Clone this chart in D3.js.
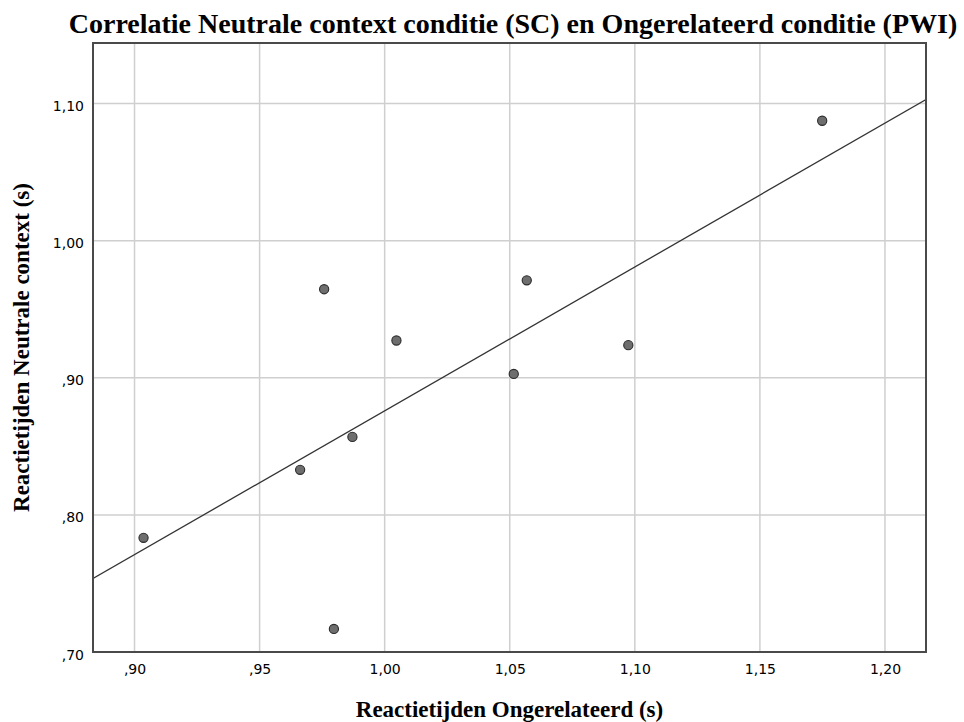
<!DOCTYPE html>
<html lang="nl">
  <head>
    <meta charset="UTF-8" />
    <title>Correlatie Neutrale context conditie (SC) en Ongerelateerd conditie (PWI)</title>
    <style>
      body {
        margin: 0;
        background: #fff;
      }
      svg text {
        fill: #000;
      }
      .tick-label {
        font-family: "DejaVu Sans", sans-serif;
        font-size: 14px;
      }
      .title {
        font-family: "Liberation Serif", "Times New Roman", serif;
        font-weight: bold;
      }
    </style>
  </head>
  <body>
    <svg id="chart" width="964" height="722"></svg>
    <script src="https://cdnjs.cloudflare.com/ajax/libs/d3/7.8.5/d3.min.js"></script>
    <script>
      // reaction times (s)
      const ongerelateerd = [0.9036, 0.9662, 0.9871, 0.9797, 0.9758, 1.0047, 1.0568, 1.0516, 1.0974, 1.1749];
      const neutraal = [0.7833, 0.8329, 0.8569, 0.7168, 0.9646, 0.9272, 0.9711, 0.9028, 0.9238, 1.0875];

      const xTicks = [0.9, 0.95, 1.0, 1.05, 1.1, 1.15, 1.2];
      const yTicks = [0.7, 0.8, 0.9, 1.0, 1.1];
      const xDomain = [0.8834, 1.2164];
      const yDomain = [0.7, 1.1442];

      const titleText = "Correlatie Neutrale context conditie (SC) en Ongerelateerd conditie (PWI)";
      const xLabel = "Reactietijden Ongerelateerd (s)";
      const yLabel = "Reactietijden Neutrale context (s)";

      const margin = { top: 43, right: 38, bottom: 70, left: 93 };
      const width = 964 - margin.left - margin.right;
      const height = 722 - margin.top - margin.bottom;

      const svg = d3.select("#chart");
      const g = svg.append("g").attr("transform", `translate(${margin.left},${margin.top})`);

      const x = d3.scaleLinear().domain(xDomain).range([0, width]);
      const y = d3.scaleLinear().domain(yDomain).range([height, 0]);

      // dutch style numbers: ,90 and 1,00
      const fmt = (v) => {
        const s = d3.format(".2f")(v).replace(".", ",");
        return s.startsWith("0") ? s.slice(1) : s;
      };

      g.append("clipPath")
        .attr("id", "plotClip")
        .append("rect")
        .attr("width", width)
        .attr("height", height);

      // gridlines
      g.append("g")
        .selectAll("line")
        .data(xTicks)
        .join("line")
        .attr("x1", (d) => x(d))
        .attr("x2", (d) => x(d))
        .attr("y1", 0)
        .attr("y2", height)
        .attr("stroke", "#cfcfcf")
        .attr("stroke-width", 1.5);

      g.append("g")
        .selectAll("line")
        .data(yTicks)
        .join("line")
        .attr("x1", 0)
        .attr("x2", width)
        .attr("y1", (d) => y(d))
        .attr("y2", (d) => y(d))
        .attr("stroke", "#cfcfcf")
        .attr("stroke-width", 1.5);

      // axes, no tick marks
      const xAxis = g
        .append("g")
        .attr("transform", `translate(0,${height})`)
        .call(d3.axisBottom(x).tickValues(xTicks).tickFormat(fmt).tickSize(0).tickPadding(12));
      const yAxis = g
        .append("g")
        .call(d3.axisLeft(y).tickValues(yTicks).tickFormat(fmt).tickSize(0).tickPadding(9));
      [xAxis, yAxis].forEach((a) => {
        a.select(".domain").remove();
        a.selectAll("text").attr("class", "tick-label").attr("fill", "#000");
      });
      yAxis.selectAll("text").attr("dy", "0.5em");

      // least squares fit line
      const mx = d3.mean(ongerelateerd);
      const my = d3.mean(neutraal);
      const sxy = d3.sum(ongerelateerd, (v, i) => (v - mx) * (neutraal[i] - my));
      const sxx = d3.sum(ongerelateerd, (v) => (v - mx) * (v - mx));
      const slope = sxy / sxx;
      const icpt = my - slope * mx;

      g.append("line")
        .attr("clip-path", "url(#plotClip)")
        .attr("x1", x(xDomain[0]))
        .attr("y1", y(icpt + slope * xDomain[0]))
        .attr("x2", x(xDomain[1]))
        .attr("y2", y(icpt + slope * xDomain[1]))
        .attr("stroke", "#333")
        .attr("stroke-width", 1.3);

      // points
      g.append("g")
        .selectAll("circle")
        .data(ongerelateerd)
        .join("circle")
        .attr("cx", (d) => x(d))
        .attr("cy", (d, i) => y(neutraal[i]))
        .attr("r", 4.6)
        .attr("fill", "#6e6e6e")
        .attr("stroke", "#2a2a2a")
        .attr("stroke-width", 1.1);

      // frame
      g.append("rect")
        .attr("width", width)
        .attr("height", height)
        .attr("fill", "none")
        .attr("stroke", "#4a4a4a")
        .attr("stroke-width", 2);

      svg
        .append("text")
        .attr("class", "title")
        .attr("x", 513)
        .attr("y", 33)
        .attr("text-anchor", "middle")
        .style("font-size", "28px")
        .text(titleText);

      svg
        .append("text")
        .attr("class", "title")
        .attr("x", margin.left + width / 2)
        .attr("y", 717)
        .attr("text-anchor", "middle")
        .style("font-size", "23px")
        .text(xLabel);

      svg
        .append("text")
        .attr("class", "title")
        .attr("transform", `translate(29,${margin.top + height / 2}) rotate(-90)`)
        .attr("text-anchor", "middle")
        .style("font-size", "23px")
        .text(yLabel);
    </script>
  </body>
</html>
